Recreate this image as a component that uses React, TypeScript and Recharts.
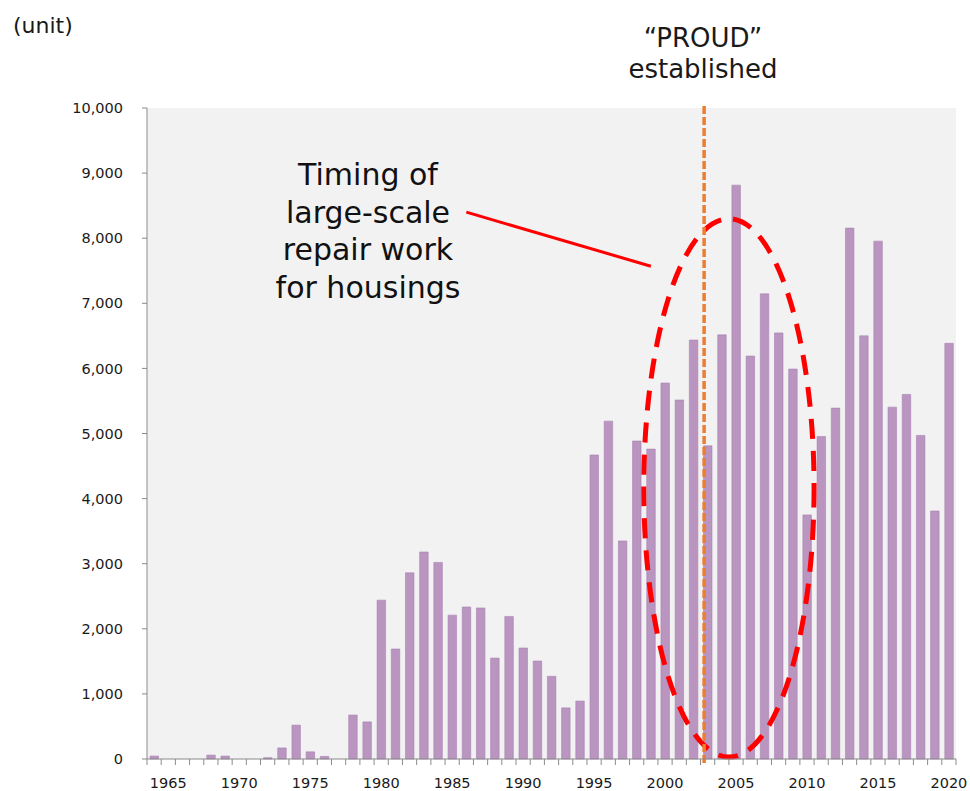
import { Bar, BarChart, CartesianGrid, ReferenceLine, XAxis, YAxis } from "recharts";

// Units per year, 1964–2020
const years = [
  "1964", "1965", "1966", "1967", "1968", "1969", "1970", "1971", "1972", "1973",
  "1974", "1975", "1976", "1977", "1978", "1979", "1980", "1981", "1982", "1983",
  "1984", "1985", "1986", "1987", "1988", "1989", "1990", "1991", "1992", "1993",
  "1994", "1995", "1996", "1997", "1998", "1999", "2000", "2001", "2002", "2003",
  "2004", "2005", "2006", "2007", "2008", "2009", "2010", "2011", "2012", "2013",
  "2014", "2015", "2016", "2017", "2018", "2019", "2020",
];

const units = [
  45, 0, 0, 0, 60, 45, 0, 0, 20, 170,
  520, 110, 40, 0, 675, 570, 2440, 1690, 2860, 3180,
  3020, 2210, 2335, 2320, 1550, 2190, 1705, 1505, 1270, 785,
  890, 4670, 5190, 3350, 4885, 4760, 5775, 5515, 6435, 4810,
  6515, 8815, 6190, 7145, 6545, 5990, 3750, 4955, 5390, 8155,
  6500, 7955, 5405, 5600, 4970, 3810, 6385,
];

const yTicks = [0, 1000, 2000, 3000, 4000, 5000, 6000, 7000, 8000, 9000, 10000];

const calloutLines = ["Timing of", "large-scale", "repair work", "for housings"];

const data = years.map((year, i) => ({ year, units: units[i] }));

const WIDTH = 970;
const HEIGHT = 791;
const Y_AXIS_W = 147;
const RIGHT = 14;
const BAND = (WIDTH - Y_AXIS_W - RIGHT) / years.length;
const AXIS_GRAY = "#8a8a8a";
const FONT = "'DejaVu Sans', Verdana, sans-serif";

function YearTick(props: any) {
  const { x, y, payload, index } = props;
  const half = BAND / 2;
  const showLabel = Number(payload.value) % 5 === 0;
  return (
    <g>
      <line x1={x - half} x2={x - half} y1={y} y2={y + 6} stroke={AXIS_GRAY} />
      {index === years.length - 1 && (
        <line x1={x + half} x2={x + half} y1={y} y2={y + 6} stroke={AXIS_GRAY} />
      )}
      {showLabel && (
        <text x={x} y={y + 29} textAnchor="middle" fontSize={14.5} fontFamily={FONT} fill="#1a1a1a">
          {payload.value}
        </text>
      )}
    </g>
  );
}

// dashed ellipse spanning the outer edges of the two end categories
function Ellipse(props: any) {
  const { x1, y1, x2, y2 } = props;
  const left = Math.min(x1, x2) - BAND / 2;
  const right = Math.max(x1, x2) + BAND / 2;
  const top = Math.min(y1, y2);
  const bottom = Math.max(y1, y2);
  return (
    <ellipse
      cx={(left + right) / 2}
      cy={(top + bottom) / 2}
      rx={(right - left) / 2}
      ry={(bottom - top) / 2}
      fill="none"
      stroke="#ff0000"
      strokeWidth={5}
      strokeDasharray="20 12"
    />
  );
}

function EstablishedLine(props: any) {
  const { x1, y1, x2, y2 } = props;
  return (
    <line
      x1={x1 - 3.5}
      x2={x2 - 3.5}
      y1={y1 + 4}
      y2={y2 - 2}
      stroke="#ed7d31"
      strokeWidth={3.5}
      strokeDasharray="8 3"
    />
  );
}

export default function App() {
  return (
    <div style={{ position: "absolute", left: 0, top: 0, width: WIDTH, height: HEIGHT, background: "#fff" }}>
      <BarChart
        width={WIDTH}
        height={HEIGHT}
        data={data}
        margin={{ top: 108, right: RIGHT, bottom: 0, left: 0 }}
        barSize={8.5}
      >
        <CartesianGrid fill="#f2f2f2" horizontal={false} vertical={false} />
        <XAxis
          dataKey="year"
          height={32}
          interval={0}
          tickSize={0}
          tickMargin={0}
          tickLine={false}
          axisLine={{ stroke: AXIS_GRAY }}
          tick={<YearTick />}
        />
        <YAxis
          width={Y_AXIS_W}
          domain={[0, 10000]}
          ticks={yTicks}
          tickSize={5}
          tickMargin={19}
          axisLine={{ stroke: AXIS_GRAY }}
          tickLine={{ stroke: AXIS_GRAY }}
          tickFormatter={(v: number) => v.toLocaleString("en-US")}
          tick={{ fontSize: 14.5, fontFamily: FONT, fill: "#1a1a1a" }}
        />
        <Bar dataKey="units" fill="#b995c0" stroke="#a982b3" strokeWidth={0.6} isAnimationActive={false} />
        <ReferenceLine
          segment={[
            { x: "1999", y: 30 },
            { x: "2010", y: 8300 },
          ]}
          stroke="#ff0000"
          shape={<Ellipse />}
        />
        <ReferenceLine
          segment={[
            { x: "1986", y: 8400 },
            { x: "1999", y: 7570 },
          ]}
          stroke="#ff0000"
          strokeWidth={3}
        />
        <ReferenceLine x="2003" stroke="#ed7d31" shape={<EstablishedLine />} />
      </BarChart>
      <svg
        width={WIDTH}
        height={HEIGHT}
        style={{ position: "absolute", left: 0, top: 0, pointerEvents: "none" }}
      >
        <text x={13} y={33} fontSize={22} fontFamily={FONT} fill="#1a1a1a">
          (unit)
        </text>
        <text x={703} y={47} textAnchor="middle" fontSize={26} fontFamily={FONT} fill="#1a1a1a">
          “PROUD”
        </text>
        <text x={703} y={78} textAnchor="middle" fontSize={26} fontFamily={FONT} fill="#1a1a1a">
          established
        </text>
        {calloutLines.map((line, i) => (
          <text
            key={line}
            x={368}
            y={185 + i * 37.5}
            textAnchor="middle"
            fontSize={30}
            fontFamily={FONT}
            fill="#111"
          >
            {line}
          </text>
        ))}
      </svg>
    </div>
  );
}
